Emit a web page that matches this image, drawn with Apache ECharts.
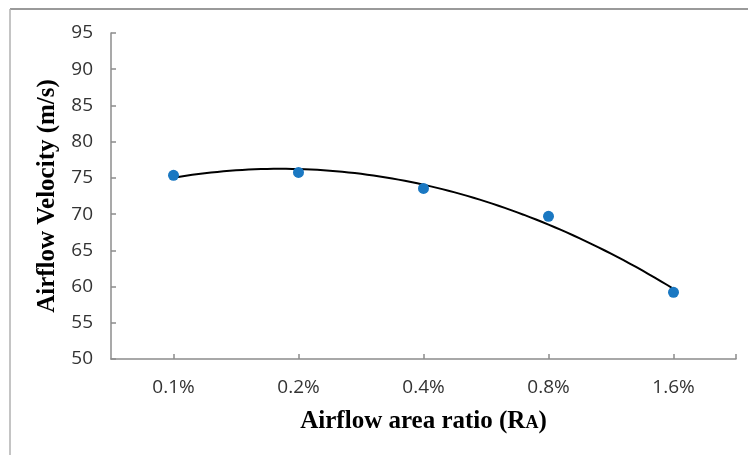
<!DOCTYPE html>
<html>
<head>
<meta charset="utf-8">
<script src="https://cdn.jsdelivr.net/npm/echarts@6/dist/echarts.min.js"></script>
<style>
html,body{margin:0;padding:0;background:#fff;}
#chart{width:748px;height:455px;}
</style>
</head>
<body>
<div id="chart"></div>
<script>
// Data
const categories = ['0.1%', '0.2%', '0.4%', '0.8%', '1.6%'];
const velocity = [75.35, 75.75, 73.55, 69.7, 59.2];
const yTicks = { min: 50, max: 95, step: 5 };

// 2nd-order polynomial least-squares trendline (as Excel draws it) over x = 1..n
function polyFit2(ys) {
  let s = [0, 0, 0, 0, 0], t = [0, 0, 0];
  ys.forEach((y, i) => {
    const x = i + 1;
    for (let k = 0; k < 5; k++) s[k] += Math.pow(x, k);
    for (let k = 0; k < 3; k++) t[k] += y * Math.pow(x, k);
  });
  const M = [[s[0], s[1], s[2], t[0]], [s[1], s[2], s[3], t[1]], [s[2], s[3], s[4], t[2]]];
  for (let i = 0; i < 3; i++) {
    for (let j = i + 1; j < 3; j++) {
      const f = M[j][i] / M[i][i];
      for (let k = i; k < 4; k++) M[j][k] -= f * M[i][k];
    }
  }
  const c = [0, 0, 0];
  for (let i = 2; i >= 0; i--) {
    let v = M[i][3];
    for (let k = i + 1; k < 3; k++) v -= M[i][k] * c[k];
    c[i] = v / M[i][i];
  }
  return c;
}
const coef = polyFit2(velocity);
const trend = [];
for (let k = 0; k <= 80; k++) {
  const x = 1 + (velocity.length - 1) * k / 80;
  trend.push([x, coef[0] + coef[1] * x + coef[2] * x * x]);
}

const axisGray = '#8c8c8c';
const labelColor = '#333333';
const chart = echarts.init(document.getElementById('chart'), null, { renderer: 'canvas' });
chart.setOption({
  animation: false,
  backgroundColor: '#fff',
  grid: { left: 111, right: 12, top: 33, bottom: 96, containLabel: false },
  graphic: [
    { type: 'line', shape: { x1: 10, y1: 9, x2: 748, y2: 9 }, style: { stroke: '#9a9a9a', lineWidth: 2 } },
    { type: 'line', shape: { x1: 10, y1: 9, x2: 10, y2: 455 }, style: { stroke: '#b0b0b0', lineWidth: 1.5 } }
  ],
  xAxis: [
    {
      type: 'category',
      data: categories,
      boundaryGap: true,
      axisLine: { lineStyle: { color: axisGray, width: 1.5 } },
      axisTick: { show: true, alignWithLabel: true, inside: true, length: 5, lineStyle: { color: axisGray, width: 1.5 } },
      axisLabel: { color: labelColor, fontSize: 19, fontFamily: 'Open Sans', margin: 19 },
      splitLine: { show: false },
      name: '{n|Airflow area ratio (R}{s|A}{n|)}',
      nameLocation: 'middle',
      nameGap: 50,
      nameTextStyle: {
        rich: {
          n: { fontFamily: 'Liberation Serif', fontWeight: 'bold', fontSize: 25, color: '#000' },
          s: { fontFamily: 'Liberation Serif', fontWeight: 'bold', fontSize: 18, color: '#000', verticalAlign: 'bottom', padding: [0, 0, 2, 0] }
        }
      }
    },
    {
      type: 'value',
      min: 0.5,
      max: 5.5,
      position: 'bottom',
      axisLine: { show: false },
      axisLabel: { show: false },
      splitLine: { show: false },
      axisTick: { show: true, inside: true, length: 5, customValues: [5.5], lineStyle: { color: axisGray, width: 1.5 } }
    }
  ],
  yAxis: {
    type: 'value',
    min: yTicks.min,
    max: yTicks.max,
    interval: yTicks.step,
    axisLine: { show: true, lineStyle: { color: axisGray, width: 1.5 } },
    axisTick: { show: true, inside: true, length: 5, lineStyle: { color: axisGray, width: 1.5 } },
    axisLabel: { color: labelColor, fontSize: 19, fontFamily: 'Open Sans', margin: 18 },
    splitLine: { show: false },
    name: 'Airflow Velocity (m/s)',
    nameLocation: 'middle',
    nameRotate: 90,
    nameGap: 48,
    nameTextStyle: { fontFamily: 'Liberation Serif', fontWeight: 'bold', fontSize: 25, color: '#000' }
  },
  series: [
    {
      type: 'line',
      xAxisIndex: 1,
      data: trend,
      showSymbol: false,
      symbol: 'none',
      lineStyle: { color: '#000', width: 2 },
      z: 2
    },
    {
      type: 'scatter',
      xAxisIndex: 0,
      data: velocity,
      symbol: 'circle',
      symbolSize: 11,
      itemStyle: { color: '#1a78c2', opacity: 1 },
      z: 3
    }
  ]
});
</script>
</body>
</html>
